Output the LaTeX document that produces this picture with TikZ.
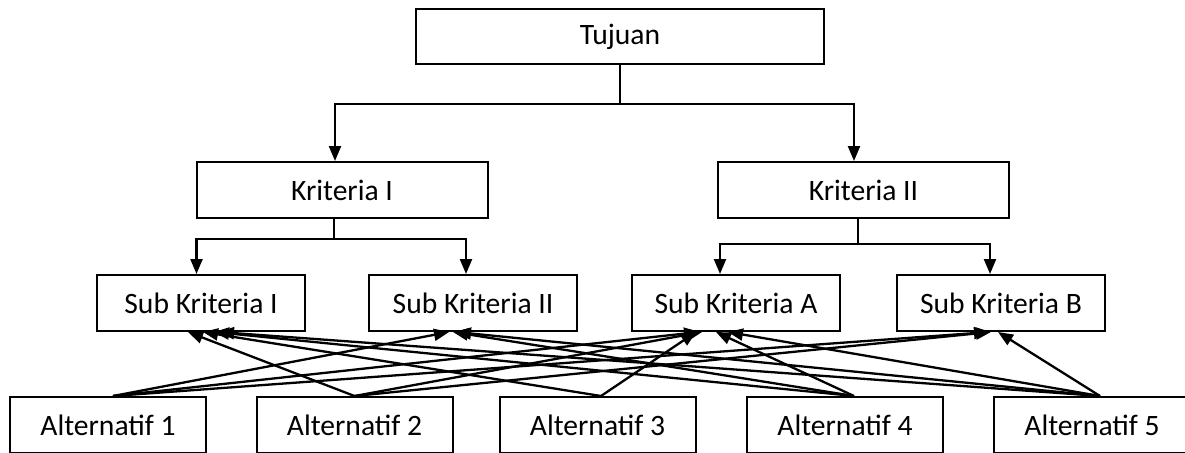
\documentclass[tikz,border=0pt]{standalone}
\usepackage{fontspec}
\setmainfont{Carlito}
\usetikzlibrary{arrows.meta}
\tikzset{%
  box/.style     = {shape=rectangle, draw, line width=1pt,%
                    minimum height=28pt, inner sep=0pt},%
  goal/.style    = {box, minimum width=204pt, minimum height=27.5pt},%
  crit/.style    = {box, minimum width=145.5pt},%
  subcrit/.style = {box, minimum width=104pt},%
  alt/.style     = {box, minimum width=98pt},%
  stem/.style    = {line width=0.6pt},%
  link/.style    = {line width=1.15pt, -{Triangle[length=7.5pt,width=6pt]}}%
}
\begin{document}
\begin{tikzpicture}[x=0.5pt, y=-0.5pt, every node/.style = {font=\fontsize{14.8}{17}\selectfont}]
  \clip (0,0) rectangle (1185,452);
  % levels
  \node[goal]    (tuj) at (620,36.5) {Tujuan};
  \node[crit]    (k1)  at (342,190)  {Kriteria I};
  \node[crit]    (k2)  at (863.5,190) {Kriteria II};
  \node[subcrit] (s1)  at (201,303)  {Sub Kriteria I};
  \node[subcrit] (s2)  at (473,303)  {Sub Kriteria II};
  \node[subcrit] (sa)  at (736,303)  {Sub Kriteria A};
  \node[subcrit] (sb)  at (1001,303) {Sub Kriteria B};
  \node[alt]     (a1)  at (108,425)  {Alternatif 1};
  \node[alt]     (a2)  at (354.5,425) {Alternatif 2};
  \node[alt]     (a3)  at (597.5,425) {Alternatif 3};
  \node[alt]     (a4)  at (845,425)  {Alternatif 4};
  \node[alt]     (a5)  at (1092,425) {Alternatif 5};
  % tujuan -> kriteria
  \draw[stem] (tuj.south) -- ++(0,39) coordinate (tj);
  \draw[link] (tj) -| ([xshift=-3.5pt]k1.north);
  \draw[link] (tj) -| ([xshift=-4.75pt]k2.north);
  % kriteria -> sub kriteria
  \draw[stem] ([xshift=-4pt]k1.south) -- ++(0,20) coordinate (kj1);
  \draw[link] (kj1) -| ([xshift=-2.25pt]s1.north);
  \draw[link] (kj1) -| ([xshift=-3.5pt]s2.north);
  \draw[stem] ([xshift=-2.75pt]k2.south) -- ++(0,25) coordinate (kj2);
  \draw[link] (kj2) -| ([xshift=-8pt]sa.north);
  \draw[link] (kj2) -| ([xshift=-5.5pt]sb.north);
  % alternatif -> sub kriteria
  \draw[link] ([xshift=2.5pt]a1.north) -- ([xshift=-12pt]s2.south);
  \draw[link] ([xshift=2.5pt]a1.north) -- ([xshift=-18.5pt]sa.south);
  \draw[link] ([xshift=2.5pt]a1.north) -- ([xshift=-6pt]sb.south);
  \draw[link] (a2.north) -- ([xshift=-6.5pt]s1.south);
  \draw[link] (a2.north) -- ([xshift=-17pt]sa.south);
  \draw[link] (a2.north) -- ([xshift=-5pt]sb.south);
  \draw[link] ([xshift=1.75pt]a3.north) -- ([xshift=1pt]s1.south);
  \draw[link] ([xshift=1.75pt]a3.north) -- ([xshift=-20pt]sa.south);
  \draw[link] ([xshift=4.5pt]a4.north) -- ([xshift=6.5pt]s1.south);
  \draw[link] ([xshift=4.5pt]a4.north) -- ([xshift=-10pt]s2.south);
  \draw[link] ([xshift=4.5pt]a4.north) -- ([xshift=-10pt]sa.south);
  \draw[link] ([xshift=4pt]a5.north) -- ([xshift=9pt]s1.south);
  \draw[link] ([xshift=4pt]a5.north) -- ([xshift=-8.5pt]s2.south);
  \draw[link] ([xshift=4pt]a5.north) -- ([xshift=-4pt]sa.south);
  \draw[link] ([xshift=4pt]a5.north) -- ([xshift=-1.5pt]sb.south);
\end{tikzpicture}
\end{document}
